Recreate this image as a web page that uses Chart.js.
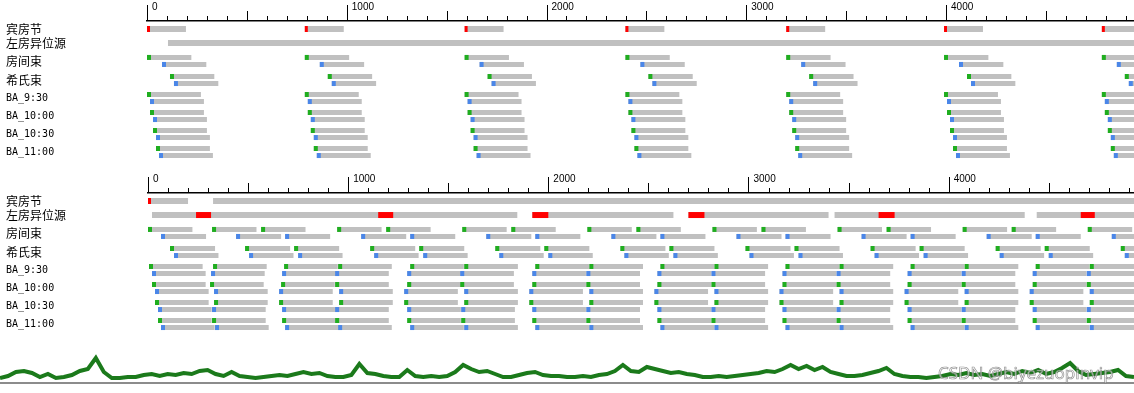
<!DOCTYPE html>
<html>
<head>
<meta charset="utf-8">
<script src="https://cdn.jsdelivr.net/npm/chart.js@4.4.1/dist/chart.umd.min.js"></script>
<style>
  html, body { margin: 0; padding: 0; background: #fff; }
  #wrap { position: relative; width: 1134px; height: 393px; overflow: hidden; }
  canvas { position: absolute; left: 0; }
  #top { top: 0; }
  #bottom { top: 172px; }
  #trace { top: 340px; }
  #mark { position: absolute; left: 938px; top: 361px; font: 17px 'Noto Sans', sans-serif; line-height: 23px;
          color: rgba(255,255,255,0.6); -webkit-text-stroke: 0.7px rgba(110,110,110,0.75); white-space: nowrap; }
</style>
</head>
<body>
<div id="wrap">
  <canvas id="top" width="1134" height="170"></canvas>
  <canvas id="bottom" width="1134" height="170"></canvas>
  <canvas id="trace" width="1134" height="53"></canvas>
  <div id="mark">CSDN @biyezuopinvip</div>
</div>
<script>
// rows on the left, and where each one sits (row units, A lane; V lane sits a bit lower)
const rowNames = ['宾房节', '左房异位源', '房间束', '希氏束', 'BA_9:30', 'BA_10:00', 'BA_10:30', 'BA_11:00'];
const rowPos = [0, 0.78, 1.58, 2.64, 3.64, 4.64, 5.64, 6.64];
const axisTicks = [0, 1000, 2000, 3000, 4000];

// top strip - regular rhythm
const topBeats = [0, 790, 1590, 2395, 3200, 3990, 4780];
const topSinusLen = 195;
const topEctopic = [[105, 4941]];
// 房间束 .. BA_11:00 : delay after each beat and bar length, A lane / V lane
const topDelayA = [0, 115, 0, 15, 30, 45];
const topDelayV = [75, 135, 15, 30, 45, 60];
const topLenA = [222, 222, 270, 270, 270, 270];
const topLenV = [222, 222, 270, 270, 270, 270];

// bottom strip - ectopic rhythm
const botSinus = [[0, 200], [325, 4930]];
const botSinusMark = [0];
const botEctopic = [[20, 1845], [1920, 2625], [2700, 3400], [3430, 4380], [4440, 4930]];
const botEctopicRed = [[240, 315], [1150, 1225], [1920, 2000], [2700, 2780], [3650, 3730], [4660, 4730]];
const botRoomA = [0, 320, 565, 945, 1190, 1570, 1815, 2195, 2440, 2820, 3065, 3445, 3690, 4070, 4315, 4695];
const botRoomV = [65, 440, 685, 1065, 1310, 1690, 1935, 2315, 2560, 2940, 3185, 3565, 3810, 4190, 4435, 4815];
const botHisA = [110, 485, 730, 1110, 1355, 1735, 1980, 2360, 2605, 2985, 3230, 3610, 3855, 4235, 4480, 4860];
const botHisV = [130, 505, 750, 1130, 1375, 1755, 2000, 2380, 2625, 3005, 3250, 3630, 3875, 4255, 4500, 4880];
const botBa930A = [5, 325, 680, 950, 1310, 1580, 1935, 2205, 2560, 2830, 3185, 3455, 3810, 4080, 4435, 4705];
const botBa930V = [20, 315, 670, 935, 1295, 1560, 1920, 2190, 2545, 2815, 3170, 3440, 3795, 4065, 4420, 4690];
const botBa1000A = [20, 310, 665, 935, 1295, 1560, 1920, 2190, 2545, 2815, 3170, 3440, 3795, 4065, 4420, 4690];
const botBa1000V = [35, 330, 655, 955, 1280, 1580, 1905, 2205, 2530, 2830, 3155, 3455, 3780, 4080, 4405, 4705];
const botBa1030A = [35, 330, 655, 955, 1280, 1580, 1905, 2205, 2530, 2830, 3155, 3455, 3780, 4080, 4405, 4705];
const botBa1030V = [50, 320, 670, 935, 1295, 1565, 1920, 2190, 2545, 2815, 3170, 3440, 3795, 4065, 4420, 4690];
const botBa1100A = [50, 320, 670, 935, 1295, 1565, 1920, 2190, 2545, 2815, 3170, 3440, 3795, 4065, 4420, 4690];
const botBa1100V = [65, 335, 685, 950, 1310, 1580, 1935, 2205, 2560, 2830, 3185, 3455, 3810, 4080, 4435, 4705];
const botLenA = [222, 225, 268, 268, 268, 268];
const botLenV = [225, 222, 268, 268, 268, 268];

// surface trace under the strips (height above baseline)
const traceValues = [4,6,10,11,9,5,8,4,5,7, 11,13,24,10,4,4,5,5,7,8, 6,8,7,9,8,11,12,8,6,10,
  6,5,4,5,6,7,6,8,10,8, 9,6,5,5,7,18,9,8,6,5, 5,12,6,5,6,5,6,10,17,13,
  10,11,8,5,5,7,9,10,7,6, 6,5,5,6,5,7,8,11,17,11, 10,15,13,11,9,10,8,7,5,5,
  6,5,6,7,8,9,11,10,13,17, 13,16,12,15,10,8,6,6,7,9, 11,14,8,6,5,5,4,5,6,8,
  7,9,7,8,6,8,10,8,11,9, 12,8,10,14,19,11,7,8,9,10, 12,6,5];

const grayCol = '#c0c0c0', redCol = '#ff0000', greenCol = '#1fae1f', blueCol = '#4a86e8';
const markLen = 20, sinusMarkLen = 15, vOffset = 0.39;

// tick marks of different length on the top axis
const tickMarks = {
  id: 'tickMarks',
  afterDraw(chart) {
    const xs = chart.scales.x, y0 = chart.chartArea.top, ctx = chart.ctx;
    ctx.save();
    ctx.strokeStyle = '#000';
    ctx.lineWidth = 1;
    for (let v = 0; v <= xs.max; v += 100) {
      const px = Math.round(xs.getPixelForValue(v)) + 0.5;
      const len = v % 1000 === 0 ? 16 : (v % 500 === 0 ? 10 : 5);
      ctx.beginPath();
      ctx.moveTo(px, y0);
      ctx.lineTo(px, y0 - len);
      ctx.stroke();
    }
    ctx.restore();
  }
};

const bar = (data, color, thick) => ({
  data, backgroundColor: color, barThickness: thick, stack: 'lanes', borderWidth: 0, inflateAmount: 0
});

function panel(id, xMax, leftWidth, sinusSegs, sinusMarks, ectopicSegs, ectopicRed, lanesA, lanesV, lenA, lenV) {
  const red = [], green = [], blue = [], grayBig = [], graySmall = [];
  sinusSegs.forEach(s => grayBig.push({x: s, y: rowPos[0]}));
  sinusMarks.forEach(m => red.push({x: [m, m + sinusMarkLen], y: rowPos[0]}));
  ectopicSegs.forEach(s => grayBig.push({x: s, y: rowPos[1]}));
  ectopicRed.forEach(s => red.push({x: s, y: rowPos[1]}));
  lanesA.forEach((starts, r) => starts.forEach(s => {
    graySmall.push({x: [s, s + lenA[r]], y: rowPos[r + 2]});
    green.push({x: [s, s + markLen], y: rowPos[r + 2]});
  }));
  lanesV.forEach((starts, r) => starts.forEach(s => {
    graySmall.push({x: [s, s + lenV[r]], y: rowPos[r + 2] + vOffset});
    blue.push({x: [s, s + markLen], y: rowPos[r + 2] + vOffset});
  }));

  return new Chart(document.getElementById(id), {
    type: 'bar',
    data: {
      datasets: [bar(red, redCol, 6), bar(green, greenCol, 5), bar(blue, blueCol, 5),
                 bar(grayBig, grayCol, 6), bar(graySmall, grayCol, 5)]
    },
    options: {
      indexAxis: 'y',
      responsive: false,
      animation: false,
      layout: { padding: { left: 6, right: 0, top: 0, bottom: 0 } },
      plugins: { legend: { display: false }, tooltip: { enabled: false } },
      scales: {
        x: {
          type: 'linear', position: 'top', min: 0, max: xMax, stacked: false,
          afterBuildTicks: s => { s.ticks = axisTicks.map(v => ({ value: v })); },
          afterFit: s => { s.height = 21; },
          ticks: { align: 'start', labelOffset: 5, padding: 0, color: '#000', autoSkip: false, maxRotation: 0,
                   font: { family: 'Liberation Sans', size: 10 }, callback: v => String(v) },
          grid: { display: false, drawTicks: true, tickLength: 8 },
          border: { display: true, color: '#000', width: 1.5 }
        },
        y: {
          type: 'linear', reverse: true, min: -0.444, max: 7.833, stacked: true, offset: false,
          afterBuildTicks: s => { s.ticks = rowNames.map((n, i) => ({ value: rowPos[i] + (i >= 2 ? vOffset / 2 : 0) })); },
          afterFit: s => { s.width = leftWidth; s.paddingTop = 0; s.paddingBottom = 0; },
          ticks: {
            crossAlign: 'far', padding: 0, color: '#000', autoSkip: false,
            callback: (v, i) => rowNames[i],
            font: c => c.index >= 4 ? { family: 'DejaVu Sans Mono', size: 10 } : { family: 'Noto Sans CJK SC', size: 12 }
          },
          grid: { display: false, drawTicks: false, offset: false },
          border: { display: false }
        }
      }
    },
    plugins: [tickMarks]
  });
}

panel('top', 4941, 141,
  topBeats.map(b => [b, b + topSinusLen]), topBeats, topEctopic, [],
  topDelayA.map(d => topBeats.map(b => b + d)), topDelayV.map(d => topBeats.map(b => b + d)),
  topLenA, topLenV);

panel('bottom', 4926, 142, botSinus, botSinusMark, botEctopic, botEctopicRed,
  [botRoomA, botHisA, botBa930A, botBa1000A, botBa1030A, botBa1100A],
  [botRoomV, botHisV, botBa930V, botBa1000V, botBa1030V, botBa1100V],
  botLenA, botLenV);

new Chart(document.getElementById('trace'), {
  type: 'line',
  data: {
    labels: traceValues.map((v, i) => i),
    datasets: [{ data: traceValues, borderColor: '#1b7a1b', borderWidth: 4, pointRadius: 0, tension: 0, borderJoinStyle: 'miter' }]
  },
  options: {
    responsive: false,
    animation: false,
    layout: { padding: { top: 4, bottom: 10, left: 0, right: 0 } },
    plugins: { legend: { display: false }, tooltip: { enabled: false } },
    scales: {
      x: { type: 'category', offset: false, ticks: { display: false }, grid: { display: false, drawTicks: false },
           border: { display: true, color: '#8c8c8c', width: 2 }, afterFit: s => { s.height = 0; } },
      y: { display: false, min: -1, max: 38 }
    }
  }
});
</script>
</body>
</html>
